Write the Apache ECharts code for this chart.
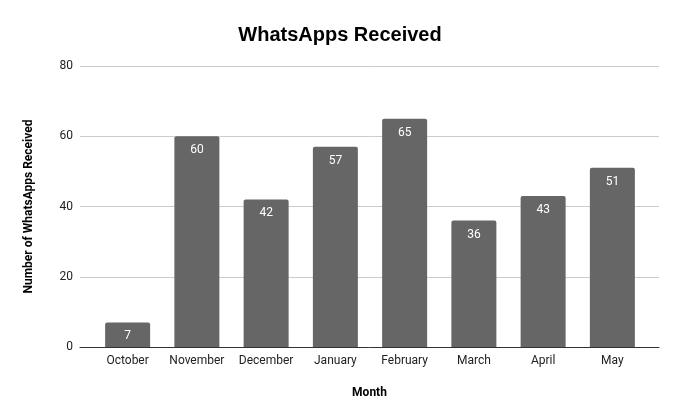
<!DOCTYPE html>
<html>
<head>
<meta charset="utf-8">
<script src="https://cdn.jsdelivr.net/npm/echarts@6/dist/echarts.min.js"></script>
<style>
  html, body { margin: 0; padding: 0; background: #fff; }
  #chart { width: 680px; height: 420px; }
</style>
</head>
<body>
<div id="chart"></div>
<script>
  // data
  var months = ['October', 'November', 'December', 'January', 'February', 'March', 'April', 'May'];
  var received = [7, 60, 42, 57, 65, 36, 43, 51];
  var yTicks = [0, 20, 40, 60, 80];

  var font = 'Roboto, Arial, "Liberation Sans", sans-serif';
  var chart = echarts.init(document.getElementById('chart'));

  chart.setOption({
    animation: false,
    title: {
      text: 'WhatsApps Received',
      left: 'center',
      top: 20,
      textStyle: { fontFamily: '"Liberation Sans", Arial, sans-serif', fontSize: 20, fontWeight: 'bold', color: '#000' }
    },
    grid: [
      // background grid: gridlines + baseline span full width
      { left: 80, right: 21, top: 66, bottom: 73 },
      // bars sit a little inset
      { left: 93, right: 33, top: 66, bottom: 73 }
    ],
    xAxis: [
      {
        gridIndex: 0, type: 'value', min: 0, max: 1,
        axisLine: { show: true, lineStyle: { color: '#333', width: 1 } },
        axisTick: { show: false }, axisLabel: { show: false }, splitLine: { show: false },
        name: 'Month', nameLocation: 'middle', nameGap: 40,
        nameTextStyle: { fontFamily: font, fontSize: 12, fontWeight: 'bold', color: '#000' }
      },
      {
        gridIndex: 1, type: 'category', data: months,
        axisLine: { show: false }, axisTick: { show: false },
        axisLabel: { interval: 0, fontFamily: font, fontSize: 12, color: '#222', margin: 8 }
      }
    ],
    yAxis: [
      {
        gridIndex: 0, type: 'value', min: yTicks[0], max: yTicks[yTicks.length - 1], interval: 20,
        axisLine: { show: false }, axisTick: { show: false },
        axisLabel: { fontFamily: font, fontSize: 12, color: '#222', margin: 7 },
        splitLine: { lineStyle: { color: '#cccccc', width: 1 } },
        name: 'Number of WhatsApps Received', nameLocation: 'middle', nameGap: 45, nameRotate: 90,
        nameTextStyle: { fontFamily: font, fontSize: 12, fontWeight: 'bold', color: '#000' }
      },
      {
        gridIndex: 1, type: 'value', min: 0, max: 80, show: false
      }
    ],
    series: [
      {
        type: 'bar',
        xAxisIndex: 1, yAxisIndex: 1,
        data: received,
        barWidth: 45,
        itemStyle: { color: '#666666', borderRadius: [2, 2, 0, 0] },
        label: {
          show: true, position: 'insideTop', distance: 8,
          color: '#fff', fontFamily: font, fontSize: 12
        }
      }
    ]
  });
</script>
</body>
</html>
